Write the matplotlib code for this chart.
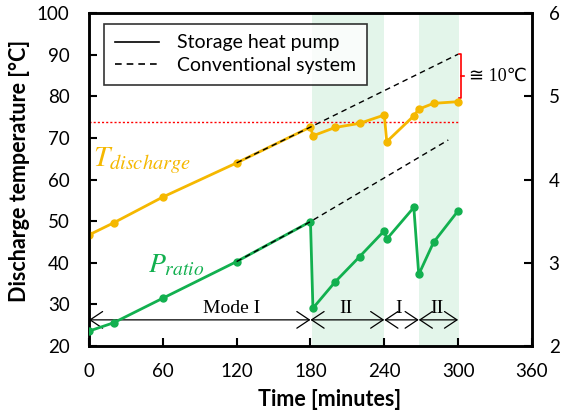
import numpy as np
import matplotlib.pyplot as plt

plt.rcParams['font.family'] = ['Lato', 'DejaVu Sans']
plt.rcParams['mathtext.fontset'] = 'stix'

# ------------------------------ Data ------------------------------
time_min = [0, 20, 60, 120, 180, 182, 200, 220, 240, 242, 264, 268, 280, 300]
t_discharge = [46.7, 49.6, 55.8, 64.0, 72.6, 70.5, 72.5, 73.5, 75.5, 69.1, 75.3, 76.9, 78.3, 78.7]
p_ratio = [2.18, 2.28, 2.575, 3.015, 3.495, 2.455, 2.77, 3.075, 3.385, 3.285, 3.665, 2.86, 3.245, 3.625]

conv_time_t = [120, 180, 300]
conv_t = [64.0, 72.6, 90.1]
conv_time_p = [120, 180, 292]
conv_p = [3.015, 3.495, 4.475]

t_limit = 73.7
mode2_spans = [(181, 240), (268, 301)]
mode_bounds = [0, 180, 240, 268, 300]
mode_names = ['Mode I', 'II', 'I', 'II']
mode_label_x = [116, 209, 252, 283]

yellow = '#f5b800'
green = '#12b04f'

# ------------------------------ Plotting ------------------------------
fig = plt.figure(figsize=(5.65, 4.19), dpi=100)
ax = fig.add_axes([0.1575, 0.174, 0.784, 0.795])
ax2 = ax.twinx()

for a, b in mode2_spans:
    ax.axvspan(a, b, color='#e3f5ea', lw=0, zorder=0)

ax.plot([0, 300], [t_limit, t_limit], ls=(0, (1.5, 1.5)), color='red', lw=1.0, zorder=2)
ax.plot(time_min, t_discharge, '-o', color=yellow, lw=2, ms=5, zorder=3)
ax.plot(conv_time_t, conv_t, '--', color='black', lw=1.0, dashes=(4, 3), zorder=4)

ax2.plot(time_min, p_ratio, '-o', color=green, lw=2, ms=5, zorder=3)
ax2.plot(conv_time_p, conv_p, '--', color='black', lw=1.0, dashes=(4, 3), zorder=4)

# legend proxies
ax.plot([], [], '-', color='black', lw=1.2, label='Storage heat pump')
ax.plot([], [], '--', color='black', lw=1.2, dashes=(4, 3), label='Conventional system')
leg = ax.legend(loc='upper left', fontsize=14, frameon=True, fancybox=False,
                edgecolor='black', borderpad=0.55, handlelength=2.3,
                bbox_to_anchor=(0.012, 0.997), labelspacing=0.3, handletextpad=0.9)
leg.get_frame().set_linewidth(1.2)

# mode arrows
arrow_y = 26.3
for i in range(len(mode_names)):
    ax.annotate('', xy=(mode_bounds[i], arrow_y), xytext=(mode_bounds[i + 1], arrow_y),
                arrowprops=dict(arrowstyle='<->,head_length=0.45,head_width=0.3',
                                color='black', lw=0.9, shrinkA=0, shrinkB=0,
                                mutation_scale=20))
    ax.text(mode_label_x[i], arrow_y + 0.8, mode_names[i], ha='center', va='bottom',
            fontsize=14, family='Liberation Serif')

# 10 C bracket
bx = 302.5
ax.plot([bx - 2, bx, bx, bx - 2], [90.1, 90.1, 79.5, 79.5], color='red', lw=1.2)
ax.plot([bx, bx + 2], [84.8, 84.8], color='red', lw=1.2)
ax.text(bx + 6, 84.8, '≅ 10℃', va='center', ha='left', fontsize=13,
        family=['Liberation Serif', 'DejaVu Sans'])

ax.text(3, 64.5, r'$T_{discharge}$', color=yellow, fontsize=21, va='center')
ax.text(48, 39.5, r'$P_{ratio}$', color=green, fontsize=20, va='center')

ax.set_xlim(0, 360)
ax.set_ylim(20, 100)
ax2.set_ylim(2, 6)
ax.set_xticks(np.arange(0, 361, 60))
ax.set_yticks(np.arange(20, 101, 10))
ax2.set_yticks([2, 3, 4, 5, 6])

for a in (ax, ax2):
    a.tick_params(direction='in', length=6, width=1.5, labelsize=13.5)
    for s in a.spines.values():
        s.set_linewidth(1.8)
ax.tick_params(axis='x', pad=12)
ax.tick_params(axis='y', pad=14)
ax2.tick_params(axis='y', pad=12)

ax.set_xlabel('Time [minutes]', fontsize=15.5, fontweight='bold', labelpad=6)
ax.xaxis.set_label_coords(0.542, -0.13)
ax.set_ylabel('Discharge temperature [°C]', fontsize=15.5, fontweight='bold')
ax.yaxis.set_label_coords(-0.133, 0.527)

plt.savefig('out.png', dpi=100)
